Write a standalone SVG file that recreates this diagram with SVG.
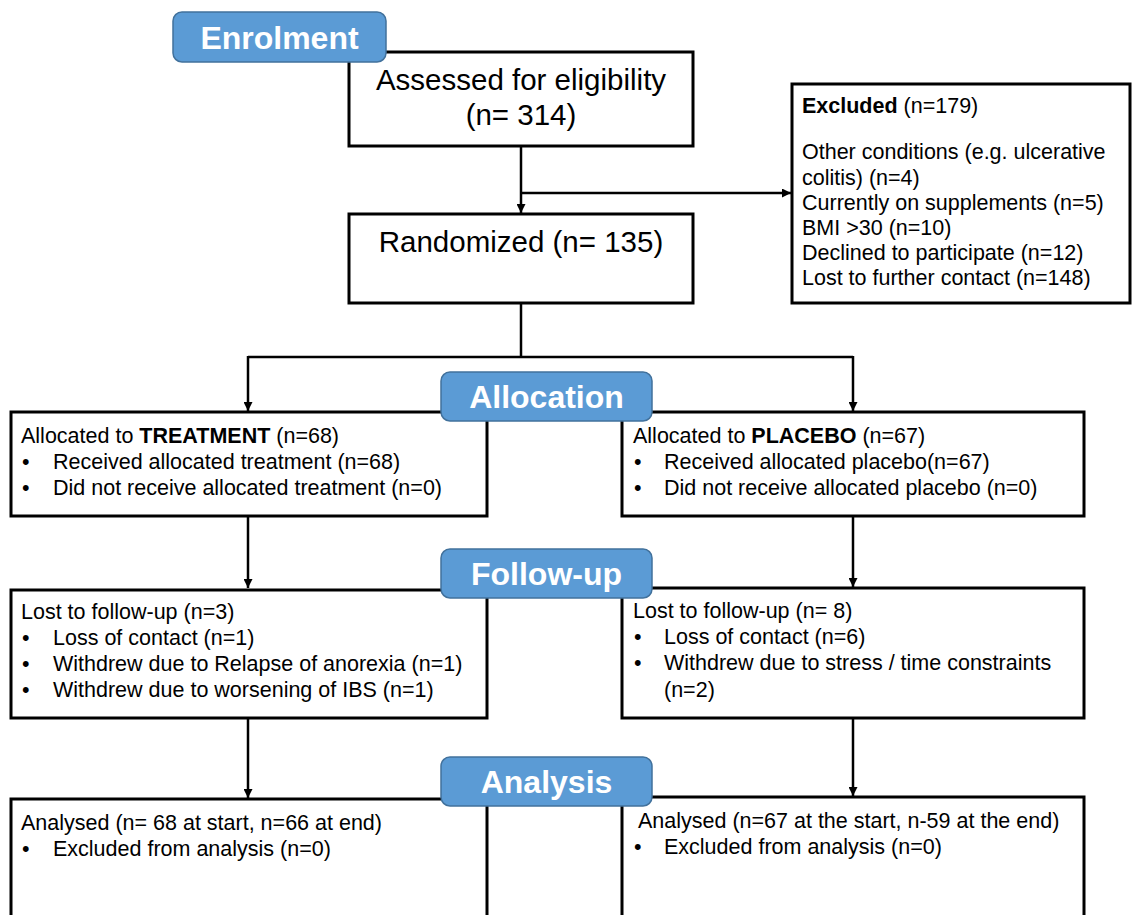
<svg xmlns="http://www.w3.org/2000/svg" width="1135" height="915" viewBox="0 0 1135 915">
<style>
.box{fill:#fff;stroke:#000;stroke-width:3}
.pill{fill:#5B9BD5;stroke:#41719C;stroke-width:1.5}
.ptxt{font-family:"Liberation Sans",Arial,sans-serif;font-weight:bold;font-size:32px;fill:#fff;text-anchor:middle}
.big{font-family:"Liberation Sans",Arial,sans-serif;font-size:29.5px;fill:#000;text-anchor:middle}
.t{font-family:"Liberation Sans",Arial,sans-serif;font-size:21.5px;fill:#000}
.conn{stroke:#000;stroke-width:2.5;fill:none}
</style>
<defs>
<marker id="arr" viewBox="0 0 10 10" refX="10" refY="5" markerWidth="3.6" markerHeight="3.6" orient="auto" markerUnits="strokeWidth">
<path d="M0,0 L10,5 L0,10 Z" fill="#000"/>
</marker>
</defs>
<rect width="1135" height="915" fill="#fff"/>
<g id="connectors">
<line class="conn" x1="521" y1="146" x2="521" y2="213" marker-end="url(#arr)"/>
<line class="conn" x1="521" y1="193" x2="791" y2="193" marker-end="url(#arr)"/>
<polyline class="conn" points="521,303 521,357"/>
<polyline class="conn" points="248,357 853,357"/>
<line class="conn" x1="248" y1="356" x2="248" y2="411" marker-end="url(#arr)"/>
<line class="conn" x1="853" y1="356" x2="853" y2="411" marker-end="url(#arr)"/>
<line class="conn" x1="248" y1="516" x2="248" y2="588" marker-end="url(#arr)"/>
<line class="conn" x1="853" y1="516" x2="853" y2="587" marker-end="url(#arr)"/>
<line class="conn" x1="248" y1="718" x2="248" y2="798" marker-end="url(#arr)"/>
<line class="conn" x1="853" y1="718" x2="853" y2="796" marker-end="url(#arr)"/>
</g>
<g id="assessed">
<rect class="box" x="349" y="52" width="344" height="94"/>
<text class="big" x="521" y="90">Assessed for eligibility</text>
<text class="big" x="521" y="125">(n= 314)</text>
</g>
<g id="randomized">
<rect class="box" x="349" y="214" width="344" height="89"/>
<text class="big" x="521" y="252">Randomized (n= 135)</text>
</g>
<g id="excluded">
<rect class="box" x="792" y="84" width="338" height="219"/>
<text class="t" x="802" y="113"><tspan font-weight="bold">Excluded</tspan> (n=179)</text>
<text class="t" x="802" y="159">Other conditions (e.g. ulcerative</text>
<text class="t" x="802" y="185">colitis) (n=4)</text>
<text class="t" x="802" y="210">Currently on supplements (n=5)</text>
<text class="t" x="802" y="235">BMI &gt;30 (n=10)</text>
<text class="t" x="802" y="260">Declined to participate (n=12)</text>
<text class="t" x="802" y="285">Lost to further contact (n=148)</text>
</g>
<g id="alloc-treatment">
<rect class="box" x="11" y="412" width="476" height="104"/>
<text class="t" x="21" y="443">Allocated to <tspan font-weight="bold">TREATMENT</tspan> (n=68)</text>
<text class="t" x="22" y="469">•</text>
<text class="t" x="53" y="469">Received allocated treatment (n=68)</text>
<text class="t" x="22" y="495">•</text>
<text class="t" x="53" y="495">Did not receive allocated treatment (n=0)</text>
</g>
<g id="alloc-placebo">
<rect class="box" x="622" y="412" width="462" height="104"/>
<text class="t" x="633" y="443">Allocated to <tspan font-weight="bold">PLACEBO</tspan> (n=67)</text>
<text class="t" x="634" y="469">•</text>
<text class="t" x="664" y="469">Received allocated placebo(n=67)</text>
<text class="t" x="634" y="495">•</text>
<text class="t" x="664" y="495">Did not receive allocated placebo (n=0)</text>
</g>
<g id="followup-treatment">
<rect class="box" x="11" y="590" width="476" height="128"/>
<text class="t" x="21" y="619">Lost to follow-up (n=3)</text>
<text class="t" x="22" y="645">•</text>
<text class="t" x="53" y="645">Loss of contact (n=1)</text>
<text class="t" x="22" y="671">•</text>
<text class="t" x="53" y="671">Withdrew due to Relapse of anorexia (n=1)</text>
<text class="t" x="22" y="697">•</text>
<text class="t" x="53" y="697">Withdrew due to worsening of IBS (n=1)</text>
</g>
<g id="followup-placebo">
<rect class="box" x="622" y="588" width="462" height="130"/>
<text class="t" x="633" y="618">Lost to follow-up (n= 8)</text>
<text class="t" x="634" y="644">•</text>
<text class="t" x="664" y="644">Loss of contact (n=6)</text>
<text class="t" x="634" y="670">•</text>
<text class="t" x="664" y="670">Withdrew due to stress / time constraints</text>
<text class="t" x="664" y="697">(n=2)</text>
</g>
<g id="analysis-treatment">
<rect class="box" x="11" y="799" width="476" height="130"/>
<text class="t" x="21" y="830">Analysed (n= 68 at start, n=66 at end)</text>
<text class="t" x="22" y="856">•</text>
<text class="t" x="53" y="856">Excluded from analysis (n=0)</text>
</g>
<g id="analysis-placebo">
<rect class="box" x="622" y="797" width="462" height="130"/>
<text class="t" x="638" y="828">Analysed (n=67 at the start, n-59 at the end)</text>
<text class="t" x="634" y="854">•</text>
<text class="t" x="664" y="854">Excluded from analysis (n=0)</text>
</g>
<g id="enrolment">
<rect class="pill" x="173" y="12" width="213" height="50" rx="9"/>
<text class="ptxt" x="279.5" y="49">Enrolment</text>
</g>
<g id="allocation">
<rect class="pill" x="441" y="372" width="211" height="49" rx="9"/>
<text class="ptxt" x="546.5" y="408">Allocation</text>
</g>
<g id="follow-up">
<rect class="pill" x="441" y="549" width="211" height="49" rx="9"/>
<text class="ptxt" x="546.5" y="585">Follow-up</text>
</g>
<g id="analysis">
<rect class="pill" x="441" y="757" width="211" height="49" rx="9"/>
<text class="ptxt" x="546.5" y="793">Analysis</text>
</g>
</svg>
